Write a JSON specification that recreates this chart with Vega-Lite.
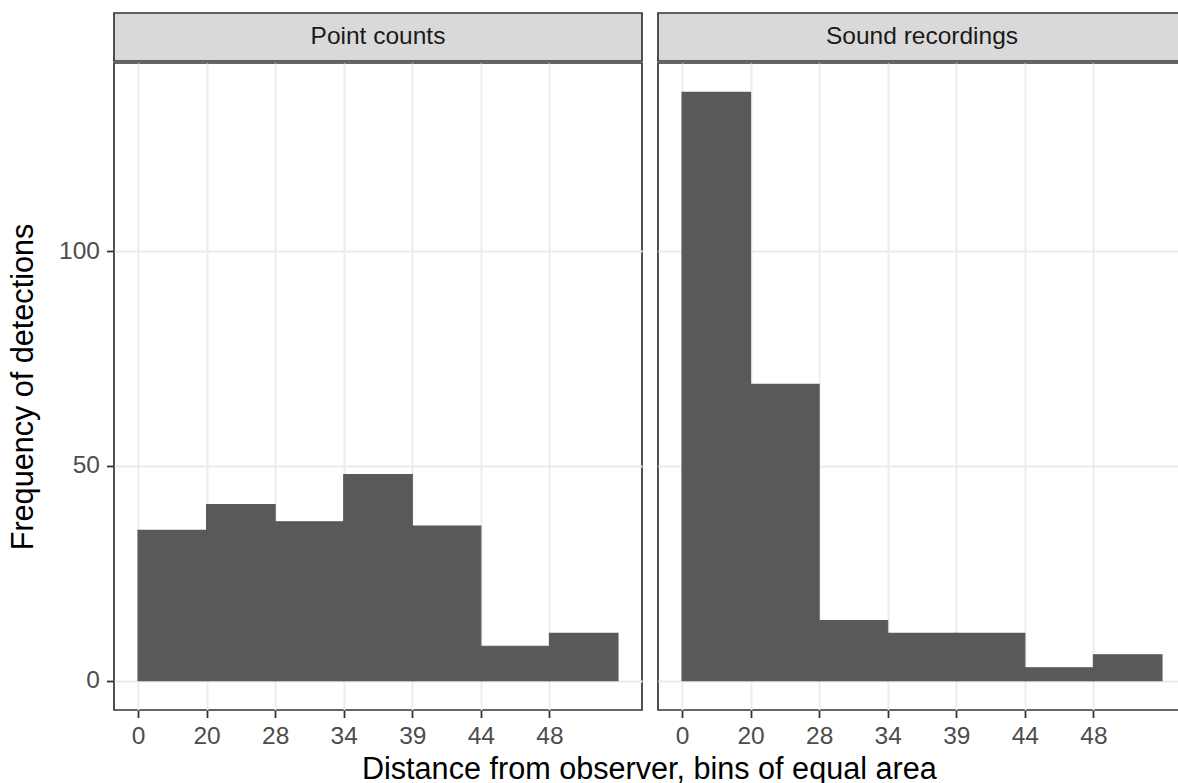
{
  "$schema": "https://vega.github.io/schema/vega-lite/v6.json",
  "background": "white",
  "padding": {"left": 7, "top": 12, "right": 0, "bottom": 0},
  "autosize": {"type": "pad"},
  "config": {
    "font": "Liberation Sans",
    "view": {"stroke": "#333333", "strokeWidth": 1.7},
    "axis": {
      "domain": false,
      "grid": true,
      "gridColor": "#EBEBEB",
      "gridWidth": 1.8,
      "tickColor": "#333333",
      "tickWidth": 1.8,
      "tickSize": 7.5,
      "labelColor": "#4D4D4D",
      "labelFontSize": 24.5,
      "labelFont": "Liberation Sans",
      "labelPadding": 7,
      "labelFlush": false,
      "labelOverlap": false,
      "titleColor": "#000000",
      "titleFontSize": 30.6,
      "titleFont": "Liberation Sans",
      "titleFontWeight": "normal"
    }
  },
  "datasets": {
    "bars": [
      {"panel": "Point counts", "bin": "0-20", "start": 0, "end": 1, "count": 35},
      {"panel": "Point counts", "bin": "20-28", "start": 1, "end": 2, "count": 41},
      {"panel": "Point counts", "bin": "28-34", "start": 2, "end": 3, "count": 37},
      {"panel": "Point counts", "bin": "34-39", "start": 3, "end": 4, "count": 48},
      {"panel": "Point counts", "bin": "39-44", "start": 4, "end": 5, "count": 36},
      {"panel": "Point counts", "bin": "44-48", "start": 5, "end": 6, "count": 8},
      {"panel": "Point counts", "bin": "48+", "start": 6, "end": 7, "count": 11},
      {"panel": "Sound recordings", "bin": "0-20", "start": 0, "end": 1, "count": 137},
      {"panel": "Sound recordings", "bin": "20-28", "start": 1, "end": 2, "count": 69},
      {"panel": "Sound recordings", "bin": "28-34", "start": 2, "end": 3, "count": 14},
      {"panel": "Sound recordings", "bin": "34-39", "start": 3, "end": 4, "count": 11},
      {"panel": "Sound recordings", "bin": "39-44", "start": 4, "end": 5, "count": 11},
      {"panel": "Sound recordings", "bin": "44-48", "start": 5, "end": 6, "count": 3},
      {"panel": "Sound recordings", "bin": "48+", "start": 6, "end": 7, "count": 6}
    ],
    "strips": [
      {"panel": "Point counts"},
      {"panel": "Sound recordings"}
    ]
  },
  "title": {
    "text": "Distance from observer, bins of equal area",
    "orient": "bottom",
    "anchor": "middle",
    "fontSize": 30.6,
    "fontWeight": "normal",
    "color": "#000000",
    "font": "Liberation Sans",
    "offset": 6,
    "dx": 56
  },
  "spacing": 14,
  "hconcat": [
    {
      "spacing": 0,
      "vconcat": [
        {
          "data": {"name": "strips"},
          "transform": [{"filter": {"field": "panel", "equal": "Point counts"}}],
          "width": 528,
          "height": 48,
          "view": {"fill": "#D9D9D9", "stroke": "#333333", "strokeWidth": 1.7},
          "mark": {"type": "text", "fontSize": 24.5, "color": "#1A1A1A", "font": "Liberation Sans", "baseline": "middle"},
          "encoding": {"text": {"field": "panel", "type": "nominal"}}
        },
        {
          "data": {"name": "bars"},
          "transform": [{"filter": {"field": "panel", "equal": "Point counts"}}],
          "width": 528,
          "height": 647,
          "mark": {"type": "rect", "color": "#595959", "stroke": "#595959", "strokeWidth": 1.1},
          "encoding": {
            "x": {
              "field": "start", "type": "quantitative",
              "scale": {"domain": [-0.35, 7.35], "nice": false, "zero": false},
              "axis": {"values": [0, 1, 2, 3, 4, 5, 6], "labelExpr": "['0','20','28','34','39','44','48'][datum.value]", "title": null}
            },
            "x2": {"field": "end"},
            "y": {
              "field": "count", "type": "quantitative",
              "scale": {"domain": [-6.85, 143.85], "nice": false, "zero": false},
              "axis": {"values": [0, 50, 100], "title": "Frequency of detections", "titlePadding": 20}
            },
            "y2": {"datum": 0}
          }
        }
      ]
    },
    {
      "spacing": 0,
      "vconcat": [
        {
          "data": {"name": "strips"},
          "transform": [{"filter": {"field": "panel", "equal": "Sound recordings"}}],
          "width": 520,
          "height": 48,
          "view": {"fill": "#D9D9D9", "stroke": "#333333", "strokeWidth": 1.7, "strokeDash": [520, 48, 568]},
          "mark": {"type": "text", "fontSize": 24.5, "color": "#1A1A1A", "font": "Liberation Sans", "baseline": "middle", "dx": 4},
          "encoding": {"text": {"field": "panel", "type": "nominal"}}
        },
        {
          "data": {"name": "bars"},
          "transform": [{"filter": {"field": "panel", "equal": "Sound recordings"}}],
          "width": 520,
          "height": 647,
          "view": {"stroke": "#333333", "strokeWidth": 1.7, "strokeDash": [520, 647, 1167]},
          "mark": {"type": "rect", "color": "#595959", "stroke": "#595959", "strokeWidth": 1.1},
          "encoding": {
            "x": {
              "field": "start", "type": "quantitative",
              "scale": {"domain": [-0.35, 7.2335], "nice": false, "zero": false},
              "axis": {"values": [0, 1, 2, 3, 4, 5, 6], "labelExpr": "['0','20','28','34','39','44','48'][datum.value]", "title": null}
            },
            "x2": {"field": "end"},
            "y": {
              "field": "count", "type": "quantitative",
              "scale": {"domain": [-6.85, 143.85], "nice": false, "zero": false},
              "axis": {"values": [0, 50, 100], "labels": false, "ticks": false, "title": null}
            },
            "y2": {"datum": 0}
          }
        }
      ]
    }
  ]
}
